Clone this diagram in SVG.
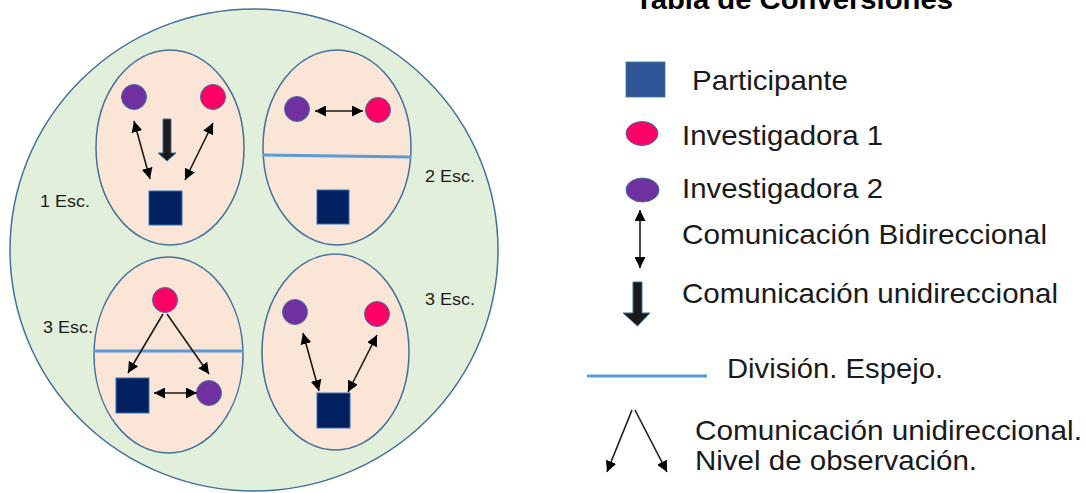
<svg xmlns="http://www.w3.org/2000/svg" width="1086" height="493" viewBox="0 0 1086 493">
<style>
.bg{fill:#E2EFDA;stroke:#41719C;stroke-width:1.5}
.egg{fill:#FBE5D6;stroke:#41719C;stroke-width:1.5}
.red{fill:#FF0066;stroke:#41719C;stroke-width:1}
.pur{fill:#7030A0;stroke:#41719C;stroke-width:1}
.sq{fill:#002060;stroke:#2E75B6;stroke-width:1}
.div{stroke:#5B9BD5;stroke-width:3;fill:none}
.arr{stroke:#1a1a1a;stroke-width:1.6;fill:none}
.blk{fill:#1a1a1a;stroke:#41719C;stroke-width:1}
.esc{font-family:"Liberation Sans",Arial,sans-serif;font-size:16px;fill:#1a1a1a}
.leg{font-family:"Liberation Sans",Arial,sans-serif;font-size:28px;fill:#1a1a1a}
.ttl{font-family:"Liberation Sans",Arial,sans-serif;font-size:28px;font-weight:bold;fill:#000}
</style>
<defs>
<marker id="ah" viewBox="0 0 10 10" refX="10" refY="5" markerWidth="11" markerHeight="11" markerUnits="userSpaceOnUse" orient="auto-start-reverse">
<path d="M0,0 L10,5 L0,10 z" fill="#000"/>
</marker>
</defs>
<rect width="1086" height="493" fill="#FFFFFF"/>

<g id="outer-circle"><ellipse class="bg" cx="254" cy="250" rx="244" ry="241"/></g>

<g id="escenario-1">
<ellipse class="egg" cx="170" cy="147.5" rx="74" ry="97.5"/>
</g>
<g id="escenario-2">
<ellipse class="egg" cx="337" cy="147.5" rx="74" ry="97.5"/>
<line class="div" x1="263" y1="155" x2="411" y2="157"/>
</g>
<g id="escenario-3a">
<ellipse class="egg" cx="168.5" cy="355" rx="74.5" ry="98"/>
<line class="div" x1="94" y1="351" x2="243" y2="351"/>
</g>
<g id="escenario-3b">
<ellipse class="egg" cx="335.5" cy="352" rx="73.5" ry="98"/>
</g>

<g id="e1-inv2"><circle class="pur" cx="134" cy="97" r="12.5"/></g>
<g id="e1-inv1"><circle class="red" cx="213" cy="97" r="12.5"/></g>
<g id="e1-part"><rect class="sq" x="149" y="191" width="33" height="34"/></g>
<g id="e2-inv2"><circle class="pur" cx="297" cy="109" r="12.5"/></g>
<g id="e2-inv1"><circle class="red" cx="378" cy="110" r="12.5"/></g>
<g id="e2-part"><rect class="sq" x="317" y="190" width="32" height="34"/></g>
<g id="e3-inv1"><circle class="red" cx="165" cy="300" r="12.5"/></g>
<g id="e3-part"><rect class="sq" x="116" y="378" width="33" height="35"/></g>
<g id="e3-inv2"><circle class="pur" cx="209" cy="393" r="12.5"/></g>
<g id="e4-inv2"><circle class="pur" cx="295" cy="312" r="12.5"/></g>
<g id="e4-inv1"><circle class="red" cx="377" cy="314" r="12.5"/></g>
<g id="e4-part"><rect class="sq" x="317" y="393" width="33" height="35"/></g>

<g id="labels">
<text class="esc" x="40" y="207" textLength="50" lengthAdjust="spacingAndGlyphs">1 Esc.</text>
<text class="esc" x="425" y="182" textLength="50" lengthAdjust="spacingAndGlyphs">2 Esc.</text>
<text class="esc" x="43" y="333" textLength="50" lengthAdjust="spacingAndGlyphs">3 Esc.</text>
<text class="esc" x="425" y="305" textLength="50" lengthAdjust="spacingAndGlyphs">3 Esc.</text>
</g>

<g id="connectors">
<line class="arr" x1="134" y1="121" x2="150" y2="179" marker-start="url(#ah)" marker-end="url(#ah)"/>
<line class="arr" x1="213" y1="123" x2="185" y2="180" marker-start="url(#ah)" marker-end="url(#ah)"/>
<polygon class="blk" points="163,119 171,119 171,153 176,153 167,161 158,153 163,153"/>
<line class="arr" x1="315" y1="111" x2="363" y2="111" marker-start="url(#ah)" marker-end="url(#ah)"/>
<line class="arr" x1="163" y1="314" x2="128" y2="373" marker-end="url(#ah)"/>
<line class="arr" x1="167" y1="314" x2="209" y2="374" marker-end="url(#ah)"/>
<line class="arr" x1="154" y1="393" x2="197" y2="393" marker-start="url(#ah)" marker-end="url(#ah)"/>
<line class="arr" x1="303" y1="333" x2="319" y2="391" marker-start="url(#ah)" marker-end="url(#ah)"/>
<line class="arr" x1="377" y1="335" x2="348" y2="392" marker-start="url(#ah)" marker-end="url(#ah)"/>
</g>

<g id="legend">
<text class="ttl" x="635" y="9" textLength="318" lengthAdjust="spacingAndGlyphs">Tabla de Conversiones</text>
<g id="leg-participante">
<rect x="626" y="62" width="39" height="35" fill="#2F5597" stroke="#41719C" stroke-width="0.8"/>
<text class="leg" x="692" y="90" textLength="156" lengthAdjust="spacingAndGlyphs">Participante</text>
</g>
<g id="leg-inv1">
<ellipse class="red" cx="642" cy="133.5" rx="16" ry="12"/>
<text class="leg" x="682" y="145" textLength="201" lengthAdjust="spacingAndGlyphs">Investigadora 1</text>
</g>
<g id="leg-inv2">
<ellipse class="pur" cx="642.5" cy="190" rx="16.5" ry="12"/>
<text class="leg" x="682" y="198" textLength="201" lengthAdjust="spacingAndGlyphs">Investigadora 2</text>
</g>
<g id="leg-bidir">
<line class="arr" x1="640" y1="210" x2="640" y2="268" marker-start="url(#ah)" marker-end="url(#ah)"/>
<text class="leg" x="682" y="244" textLength="365" lengthAdjust="spacingAndGlyphs">Comunicación Bidireccional</text>
</g>
<g id="leg-unidir">
<polygon class="blk" points="633,282 642,282 642,313 650,313 637.5,326 623,313 633,313"/>
<text class="leg" x="682" y="303" textLength="376" lengthAdjust="spacingAndGlyphs">Comunicación unidireccional</text>
</g>
<g id="leg-div">
<line class="div" x1="587" y1="376" x2="707" y2="376"/>
<text class="leg" x="727" y="378" textLength="216" lengthAdjust="spacingAndGlyphs">División. Espejo.</text>
</g>
<g id="leg-obs">
<line class="arr" x1="632" y1="410" x2="607" y2="472" marker-end="url(#ah)"/>
<line class="arr" x1="635" y1="410" x2="667" y2="472" marker-end="url(#ah)"/>
<text class="leg" x="695" y="440" textLength="387" lengthAdjust="spacingAndGlyphs">Comunicación unidireccional.</text>
<text class="leg" x="695" y="470" textLength="282" lengthAdjust="spacingAndGlyphs">Nivel de observación.</text>
</g>
</g>
</svg>
